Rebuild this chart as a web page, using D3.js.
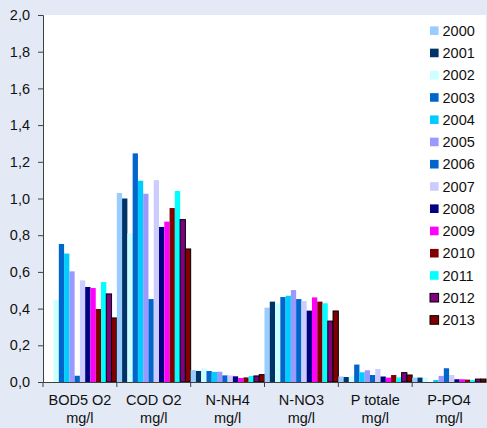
<!DOCTYPE html>
<html>
<head>
<meta charset="utf-8">
<script src="https://cdn.jsdelivr.net/npm/d3@7"></script>
<style>
  html, body { margin: 0; padding: 0; background: #e3eaf5; }
  svg { display: block; }
  text { font-family: "Liberation Sans", Arial, sans-serif; fill: #111; }
</style>
</head>
<body>
<svg id="chart" width="487" height="428"></svg>
<script>
const categories = ["BOD5 O2|mg/l", "COD O2|mg/l", "N-NH4|mg/l", "N-NO3|mg/l", "P totale|mg/l", "P-PO4|mg/l"];
const years = ["2000","2001","2002","2003","2004","2005","2006","2007","2008","2009","2010","2011","2012","2013"];
const colors = ["#99ccff","#003366","#ccffff","#0066cc","#00ccff","#9999ff","#0066cc","#ccccff","#000080","#ff00ff","#800000","#00ffff","#800080","#800000"];
const outlined = ["2012","2013"];
// values per year, one entry per category
const v2000 = [0,     1.03, 0.065, 0.405, 0.03,  0.024];
const v2001 = [0,     1.00, 0.06,  0.438, 0.027, 0.024];
const v2002 = [0.447, 0.81, 0.075, 0.428, 0.03,  0.024];
const v2003 = [0.752, 1.246,0.06,  0.463, 0.095, 0];
const v2004 = [0.70,  1.097,0.055, 0.47,  0.053, 0.011];
const v2005 = [0.603, 1.026,0.056, 0.501, 0.064, 0.033];
const v2006 = [0.034, 0.452,0.036, 0.452, 0.038, 0.075];
const v2007 = [0.554, 1.10, 0.036, 0.441, 0.071, 0.038];
const v2008 = [0.518, 0.845,0.031, 0.389, 0.03,  0.015];
const v2009 = [0.512, 0.874,0.022, 0.461, 0.024, 0.015];
const v2010 = [0.398, 0.948,0.025, 0.438, 0.038, 0.013];
const v2011 = [0.545, 1.041,0.033, 0.429, 0.025, 0.011];
const v2012 = [0.48,  0.885,0.033, 0.332, 0.051, 0.016];
const v2013 = [0.349, 0.725,0.04,  0.387, 0.038, 0.016];
const series = [v2000,v2001,v2002,v2003,v2004,v2005,v2006,v2007,v2008,v2009,v2010,v2011,v2012,v2013];
const yTicks = [0,0.2,0.4,0.6,0.8,1.0,1.2,1.4,1.6,1.8,2.0];

const svg = d3.select("#chart");
const pLeft = 43, pRight = 486, pTop = 15, pBottom = 382;

svg.append("rect").attr("x", pLeft).attr("y", pTop).attr("width", pRight - pLeft).attr("height", pBottom - pTop).attr("fill", "#ffffff");

const x0 = d3.scaleBand().domain(categories).range([pLeft, pRight]).padding(0);
const x1 = d3.scaleBand().domain(years).range([0, x0.bandwidth()]).padding(0);
const y = d3.scaleLinear().domain([0, 2]).range([pBottom, pTop]);

const groups = svg.append("g").selectAll("g").data(categories).join("g")
  .attr("transform", d => `translate(${x0(d)},0)`);

groups.selectAll("rect").data((c, ci) => years.map((yr, yi) => ({yr, yi, v: series[yi][ci]})))
  .join("rect")
  .attr("x", d => x1(d.yr))
  .attr("width", x1.bandwidth())
  .attr("y", d => y(d.v))
  .attr("height", d => pBottom - y(d.v))
  .attr("fill", d => colors[d.yi])
  .attr("stroke", d => outlined.includes(d.yr) && d.v > 0 ? "#000" : "none")
  .attr("stroke-width", 1);

// Y axis
const fmt = d3.format(".1f");
const yAxis = d3.axisLeft(y).tickValues(yTicks).tickSize(5).tickPadding(8)
  .tickFormat(d => fmt(d).replace(".", ","));
const gy = svg.append("g").attr("transform", `translate(${pLeft},0)`).call(yAxis);
gy.select(".domain").attr("stroke", "#404040");
gy.selectAll(".tick line").attr("stroke", "#404040");
gy.selectAll("text").style("font-size", "14.5px").attr("fill", "#111");

// X axis
const xAxis = d3.axisBottom(x0).tickSize(0).tickFormat("");
const gx = svg.append("g").attr("transform", `translate(0,${pBottom})`).call(xAxis);
gx.select(".domain").attr("stroke", "#404040");
const bounds = categories.map(c => x0(c));
gx.selectAll(".sep").data(bounds).join("line").attr("class", "sep")
  .attr("x1", d => d).attr("x2", d => d).attr("y1", 0).attr("y2", 5).attr("stroke", "#404040");

const labels = svg.append("g").selectAll("text").data(categories).join("text")
  .attr("x", d => x0(d) + x0.bandwidth() / 2)
  .attr("y", 405)
  .attr("text-anchor", "middle")
  .style("font-size", "14.5px");
labels.each(function(d) {
  const parts = d.split("|");
  const t = d3.select(this);
  t.append("tspan").attr("x", x0(d) + x0.bandwidth() / 2).attr("dy", 0).text(parts[0]);
  t.append("tspan").attr("x", x0(d) + x0.bandwidth() / 2).attr("dy", 17.5).text(parts[1]);
});

// Legend
const leg = svg.append("g").selectAll("g").data(years).join("g")
  .attr("transform", (d, i) => `translate(430,${30.7 + i * 22.25})`);
leg.append("rect").attr("x", 0).attr("y", -4.3).attr("width", 8.6).attr("height", 8.6)
  .attr("fill", (d, i) => colors[i])
  .attr("stroke", d => outlined.includes(d) ? "#000" : "none");
leg.append("text").attr("x", 12.5).attr("y", 5.2).style("font-size", "14.5px").text(d => d);
</script>
</body>
</html>
